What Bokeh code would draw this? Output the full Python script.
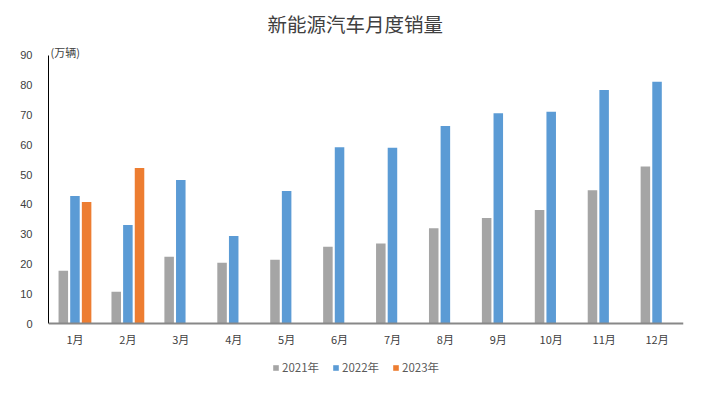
from bokeh.plotting import figure
from bokeh.models import ColumnDataSource, FactorRange, Legend, LegendItem, Label, Span
from bokeh.transform import dodge
from bokeh.embed import file_html
from bokeh.resources import INLINE
from bokeh.core.properties import value

months = ["1月", "2月", "3月", "4月", "5月", "6月", "7月", "8月", "9月", "10月", "11月", "12月"]
sales_2021 = [17.7, 10.7, 22.4, 20.4, 21.4, 25.8, 26.9, 32.0, 35.4, 38.1, 44.7, 52.7]
sales_2022 = [42.8, 33.1, 48.2, 29.4, 44.5, 59.2, 59.0, 66.3, 70.6, 71.1, 78.4, 81.2]
months_2023 = ["1月", "2月"]
sales_2023 = [40.8, 52.2]
series_names = ["2021年", "2022年", "2023年"]
colors = ["#A5A5A5", "#5B9BD5", "#ED7D31"]
y_ticks = [0, 10, 20, 30, 40, 50, 60, 70, 80, 90]

src_a = ColumnDataSource(dict(m=months, v=sales_2021))
src_b = ColumnDataSource(dict(m=months, v=sales_2022))
src_c = ColumnDataSource(dict(m=months_2023, v=sales_2023))
src_lab = ColumnDataSource(dict(m=months, y=[0] * len(months)))

p = figure(x_range=FactorRange(*months, range_padding=0), y_range=(-20.14, 94),
           frame_width=635, frame_height=340, output_backend="svg", toolbar_location=None,
           min_border_left=48, min_border_right=26, min_border_top=43, min_border_bottom=0)
p.outline_line_color = None
p.xgrid.grid_line_color = None
p.ygrid.grid_line_color = None

p.title.text = "新能源汽车月度销量"
p.title.align = "left"
p.title.offset = 219
p.title.standoff = 12
p.title.text_font = "Noto Sans CJK SC"
p.title.text_font_size = "19.5px"
p.title.text_font_style = "normal"
p.title.text_color = "#404040"

bw = 0.18
r1 = p.vbar(x=dodge("m", -0.22, range=p.x_range), top="v", width=bw, source=src_a,
            fill_color=colors[0], line_color=None)
r2 = p.vbar(x=dodge("m", 0.0, range=p.x_range), top="v", width=bw, source=src_b,
            fill_color=colors[1], line_color=None)
r3 = p.vbar(x=dodge("m", 0.22, range=p.x_range), top="v", width=bw, source=src_c,
            fill_color=colors[2], line_color=None)

# category axis line and labels, drawn at y = 0
p.xaxis.visible = False
p.add_layout(Span(location=0, dimension="width", line_color="#888888", line_width=2))
p.text(x="m", y="y", text="m", source=src_lab, y_offset=15,
       text_align="center", text_baseline="middle",
       text_font=value("Noto Sans CJK SC"), text_font_size="11px", text_color="#404040")

p.yaxis.ticker = y_ticks
p.yaxis.bounds = (0, 90)
p.yaxis.axis_line_color = "#000000"
p.yaxis.axis_line_width = 1
p.yaxis.major_tick_line_color = None
p.yaxis.minor_tick_line_color = None
p.yaxis.major_tick_out = 0
p.yaxis.major_tick_in = 0
p.yaxis.major_label_text_font = "Liberation Sans"
p.yaxis.major_label_text_font_size = "11px"
p.yaxis.major_label_text_color = "#404040"
p.yaxis.major_label_standoff = 16

unit = Label(x=0, y=90, x_units="data", y_units="data", text="(万辆)", x_offset=2, y_offset=3,
             text_font="Noto Sans CJK SC", text_font_size="11px", text_color="#404040",
             text_baseline="middle")
p.add_layout(unit)

legend = Legend(items=[LegendItem(label=series_names[0], renderers=[r1]),
                       LegendItem(label=series_names[1], renderers=[r2]),
                       LegendItem(label=series_names[2], renderers=[r3])],
                orientation="horizontal", location=(224, 8),
                label_text_font="Noto Sans CJK SC", label_text_font_size="11.5px",
                label_text_color="#595959", glyph_width=7, glyph_height=7,
                label_standoff=3, spacing=13, border_line_color=None,
                background_fill_alpha=0, margin=0, padding=4, label_height=14)
p.add_layout(legend, "center")

open("out.html", "w").write(file_html(p, INLINE))
